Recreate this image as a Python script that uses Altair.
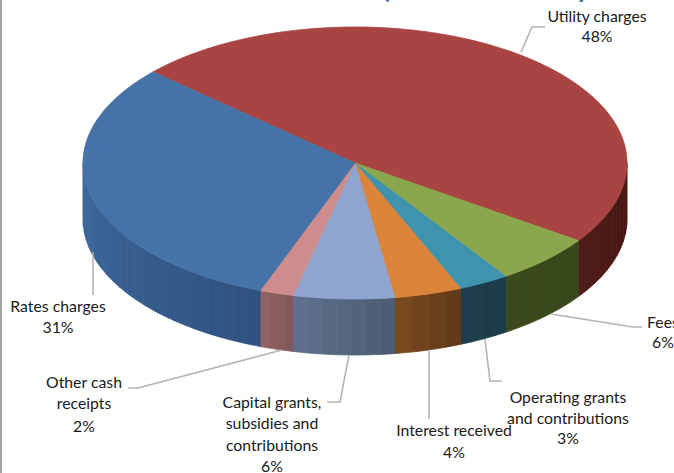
import math
import altair as alt
import pandas as pd

# Slices in drawing order, clockwise from the start angle
categories = ["Utility charges", "Fees", "Operating grants and contributions",
              "Interest received", "Capital grants, subsidies and contributions",
              "Other cash receipts", "Rates charges"]
shares = [48, 6, 3, 4, 6, 2, 31]
top_colors = ["#a84442", "#8aa74e", "#3f93ad", "#dc843a", "#8fa5cf", "#ce8d8c", "#4673a7"]
# Wall shading of each slice, from its left to its right end on screen
wall_left = ["#4f1c19", "#3c4a1e", "#1c3f4f", "#7c4b20", "#5f728e", "#926363", "#3f6b9e"]
wall_right = ["#431612", "#38471c", "#1c3b4a", "#5f3917", "#4b5a70", "#7f5757", "#2f5180"]

label_lines = [["Utility charges", "48%"], ["Fees", "6%"],
               ["Operating grants", "and contributions", "3%"],
               ["Interest received", "4%"],
               ["Capital grants,", "subsidies and", "contributions", "6%"],
               ["Other cash", "receipts", "2%"], ["Rates charges", "31%"]]
label_x = [597, 663, 568, 454, 272, 84, 58]
label_y = [[17, 37], [323, 343], [398, 419, 439], [431, 453],
           [403, 424, 446, 467], [383, 404, 427], [307, 328]]
leaders = [[(521, 52), (532, 27), (545, 27)],
           [(551, 314), (633, 327), (642, 327)],
           [(485, 339), (490, 381), (502, 381)],
           [(429, 350), (429, 419)],
           [(349, 355), (340, 402), (327, 402)],
           [(282, 350), (138, 388), (128, 388)],
           [(93, 252), (93, 295)]]

# Heading that runs off the top edge; only the tips of two glyphs remain
heading_glyphs = ["(", "y"]
heading_x = [386, 583]
heading_y = [-2, -2]

CX, CY, RX, RY, DEPTH = 355, 163, 272, 136, 56
START = 312.0


def rim(deg, drop=0.0):
    a = math.radians(deg)
    return CX + RX * math.sin(a), CY - RY * math.cos(a) + drop


polys = []


def add_poly(key, color, pts, z):
    closed = list(pts) + [pts[0]]
    for i, (x, y) in enumerate(closed):
        polys.append({"key": key, "color": color, "x": x, "y": y, "i": i, "z": z})


def mix(a, b, t):
    ca = [int(a[k:k + 2], 16) for k in (1, 3, 5)]
    cb = [int(b[k:k + 2], 16) for k in (1, 3, 5)]
    return "#" + "".join(f"{round(p + (q - p) * t):02x}" for p, q in zip(ca, cb))


angle = START - 360
for s, (name, share) in enumerate(zip(categories, shares)):
    sweep = share * 3.6
    a0, a1 = angle, angle + sweep
    angle = a1
    # top face
    n = max(4, int(sweep))
    arc = [rim(a0 + sweep * k / n) for k in range(n + 1)]
    add_poly(f"top{s}", top_colors[s], [(CX, CY)] + arc, 2)
    # outer wall: the part of the slice on the front half of the rim, cut into shaded bands
    lo, hi = max(a0, 90.0), min(a1, 270.0)
    if hi <= lo:
        continue
    m = max(4, int((hi - lo) / 3))
    for k in range(m):
        b0, b1 = lo + (hi - lo) * k / m, lo + (hi - lo) * (k + 1) / m
        steps = [b0 + (b1 - b0) * j / 3 for j in range(4)]
        pts = [rim(v) for v in steps] + [rim(v, DEPTH) for v in reversed(steps)]
        # angles grow leftwards along the front of the rim
        shade = mix(wall_right[s], wall_left[s], (k + 0.5) / m)
        add_poly(f"wall{s}_{k:03d}", shade, pts, 1)

poly_df = pd.DataFrame(polys)

line_rows = []
for j, path in enumerate(leaders):
    for i, (x, y) in enumerate(path):
        line_rows.append({"leader": j, "i": i, "x": x, "y": y})
line_df = pd.DataFrame(line_rows)

text_rows = []
for lines, x, ys in zip(label_lines, label_x, label_y):
    for line, y in zip(lines, ys):
        text_rows.append({"text": line, "x": x, "y": y})
text_df = pd.DataFrame(text_rows)

heading_df = pd.DataFrame({"text": heading_glyphs, "x": heading_x, "y": heading_y})

xs = alt.Scale(domain=[0, 674], range=[0, 674], nice=False, zero=False)
ys = alt.Scale(domain=[0, 473], range=[0, 473], nice=False, zero=False)
X = alt.X("x:Q", scale=xs, axis=None)
Y = alt.Y("y:Q", scale=ys, axis=None)


def faces(z):
    return (
        alt.Chart(poly_df[poly_df.z == z])
        .mark_line(fill="#000000", strokeWidth=0.8, interpolate="linear")
        .encode(
            x=X, y=Y,
            order="i:Q",
            detail="key:N",
            fill=alt.Fill("color:N", scale=None),
            stroke=alt.Stroke("color:N", scale=None),
        )
    )


leader_layer = (
    alt.Chart(line_df)
    .mark_line(color="#b4b4b4", strokeWidth=1.6)
    .encode(x=X, y=Y, order="i:Q", detail="leader:N")
)

label_layer = (
    alt.Chart(text_df)
    .mark_text(font="Lato", fontSize=15.8, color="#1a1a1a", align="center", baseline="middle")
    .encode(x=X, y=Y, text="text:N")
)

heading_layer = (
    alt.Chart(heading_df)
    .mark_text(font="Lato", fontSize=26, fontWeight="bold", color="#2e6fbd",
               align="center", baseline="alphabetic")
    .encode(x=X, y=Y, text="text:N")
)

# Frame line down the left edge
frame = alt.Chart(pd.DataFrame({"x": [1]})).mark_rule(color="#a3a3a3", strokeWidth=2).encode(
    x=alt.X("x:Q", scale=xs, axis=None))

chart = (
    alt.layer(frame, faces(1), faces(2), leader_layer, label_layer, heading_layer)
    .properties(width=674, height=473, padding=0, background="#ffffff",
                autosize=alt.AutoSizeParams(type="none", contains="padding"))
    .configure_view(stroke=None)
)

chart.save("out.html", embed_options={"renderer": "svg", "actions": False})
